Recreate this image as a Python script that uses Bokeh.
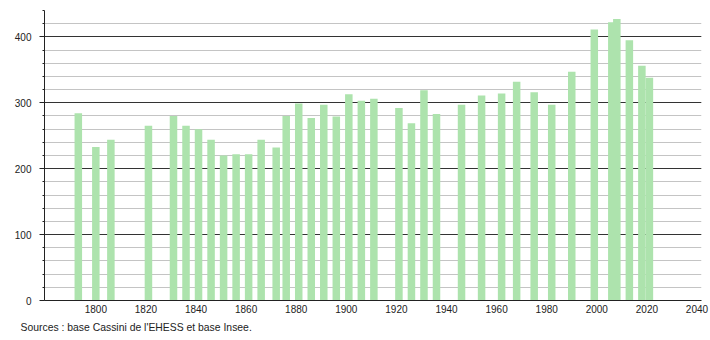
from bokeh.plotting import figure
from bokeh.models import Range1d, SingleIntervalTicker, FixedTicker, Title
from bokeh.embed import file_html
from bokeh.resources import INLINE

years = [1793, 1800, 1806, 1821, 1831, 1836, 1841, 1846, 1851, 1856, 1861, 1866,
         1872, 1876, 1881, 1886, 1891, 1896, 1901, 1906, 1911, 1921, 1926, 1931,
         1936, 1946, 1954, 1962, 1968, 1975, 1982, 1990, 1999, 2006, 2008, 2013,
         2018, 2021]
population = [284, 233, 244, 265, 280, 265, 260, 244, 220, 222, 222, 244,
              232, 280, 299, 277, 297, 279, 313, 303, 306, 292, 269, 319,
              283, 297, 311, 314, 332, 316, 297, 347, 411, 422, 427, 395,
              356, 338]
x_ticks = [1800, 1820, 1840, 1860, 1880, 1900, 1920, 1940, 1960, 1980, 2000, 2020, 2040]
source_text = "Sources : base Cassini de l'EHESS et base Insee."

FONT = "Liberation Sans"

p = figure(width=710, height=340, output_backend="svg", toolbar_location=None,
           x_range=Range1d(1779.5, 2041.8), y_range=Range1d(0, 440),
           min_border_left=44, min_border_right=9, min_border_top=10,
           min_border_bottom=40)
p.outline_line_color = None
p.background_fill_color = "white"
p.border_fill_color = "white"

p.vbar(x=years, top=population, width=3.0, fill_color="#ade3ad",
       line_color=None)

# y axis
p.yaxis.ticker = SingleIntervalTicker(interval=100, num_minor_ticks=5)
p.yaxis.axis_line_color = "#222222"
p.yaxis.major_tick_line_color = "#222222"
p.yaxis.minor_tick_line_color = "#222222"
p.yaxis.major_tick_out = 5
p.yaxis.major_tick_in = 0
p.yaxis.minor_tick_out = 2
p.yaxis.minor_tick_in = 0
p.yaxis.major_label_standoff = 8
p.yaxis.major_label_text_font = FONT
p.yaxis.major_label_text_font_size = "10px"
p.yaxis.major_label_text_color = "#222222"

# grid
p.ygrid.grid_line_color = "#333333"
p.ygrid.grid_line_width = 1
p.ygrid.minor_grid_line_color = "#c4c4c4"
p.ygrid.minor_grid_line_width = 1
p.ygrid.level = "underlay"
p.xgrid.grid_line_color = None

# x axis
p.xaxis.ticker = FixedTicker(ticks=x_ticks)
p.xaxis.axis_line_color = "#222222"
p.xaxis.major_tick_line_color = None
p.xaxis.minor_tick_line_color = None
p.xaxis.major_tick_out = 0
p.xaxis.major_tick_in = 0
p.xaxis.major_label_standoff = 4
p.xaxis.major_label_text_font = FONT
p.xaxis.major_label_text_font_size = "10px"
p.xaxis.major_label_text_color = "#222222"

src = Title(text=source_text, align="left", offset=-24, standoff=8,
            text_font=FONT, text_font_size="10.4px", text_color="#222222",
            text_font_style="normal")
p.add_layout(src, "below")

open("out.html", "w").write(file_html(p, INLINE))
